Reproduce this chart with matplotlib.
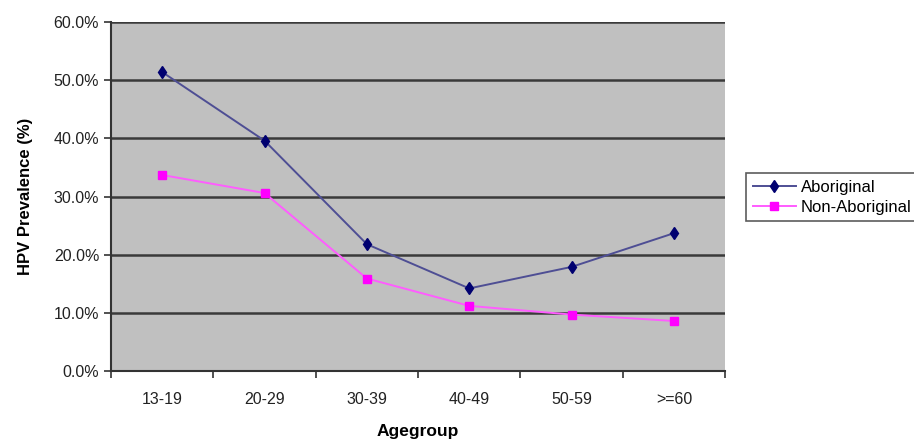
import matplotlib.pyplot as plt
from matplotlib.ticker import FixedLocator, PercentFormatter

# data
age_groups = ['13-19', '20-29', '30-39', '40-49', '50-59', '>=60']
aboriginal = [51.4, 39.6, 21.8, 14.2, 17.9, 23.7]
non_aboriginal = [33.7, 30.6, 15.9, 11.2, 9.7, 8.6]
y_ticks = [0, 10, 20, 30, 40, 50, 60]

plt.rcParams['font.family'] = ['Liberation Sans', 'DejaVu Sans']

fig = plt.figure(figsize=(9.14, 4.44), dpi=100)
ax = fig.add_axes([0.1214, 0.1644, 0.672, 0.786])
ax.set_facecolor('#c0c0c0')

x = list(range(len(age_groups)))
ax.plot(x, aboriginal, color='#4e4e94', lw=1.4, marker='d', ms=6,
        mfc='#000070', mec='#000070', label='Aboriginal', zorder=3)
ax.plot(x, non_aboriginal, color='#ff5cff', lw=1.4, marker='s', ms=5.5,
        mfc='#ff00ff', mec='#ff00ff', label='Non-Aboriginal', zorder=3)

ax.set_xlim(-0.5, len(age_groups) - 0.5)
ax.set_ylim(0, 60)
ax.set_yticks(y_ticks)
ax.yaxis.set_major_formatter(PercentFormatter(decimals=1))
ax.set_xticks(x)
ax.set_xticklabels(age_groups)
ax.xaxis.set_minor_locator(FixedLocator([i - 0.5 for i in range(len(age_groups) + 1)]))
ax.tick_params(axis='x', which='major', length=0, pad=15, labelsize=11.5, colors='#222222')
ax.tick_params(axis='x', which='minor', length=5, width=1.2, direction='out', color='#333333')
ax.tick_params(axis='y', length=5, width=1.2, direction='out', color='#333333',
               labelsize=11.5, labelcolor='#222222')

ax.grid(axis='y', color='#3a3a3a', lw=1.8)
ax.set_axisbelow(True)
for s in ['top', 'right']:
    ax.spines[s].set_visible(False)
for s in ['left', 'bottom']:
    ax.spines[s].set_color('#333333')
    ax.spines[s].set_linewidth(1.5)

ax.set_ylabel('HPV Prevalence (%)', fontsize=12, fontweight='bold', labelpad=15)
ax.set_xlabel('Agegroup', fontsize=12.5, fontweight='bold', labelpad=12)

leg = fig.legend(loc='center left', bbox_to_anchor=(0.807, 0.556), fontsize=12,
                 frameon=True, fancybox=False, edgecolor='#333333',
                 handlelength=2.6, borderpad=0.4, labelspacing=0.3, handletextpad=0.3)
leg.get_frame().set_linewidth(1.2)

fig.savefig('out.png', dpi=100)
